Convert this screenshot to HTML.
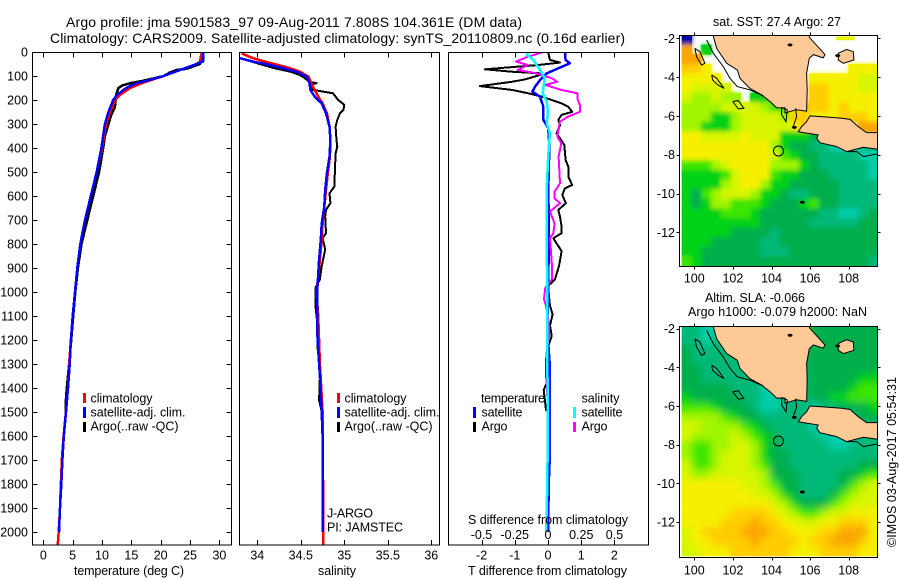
<!DOCTYPE html>
<html lang="en">
<head>
<meta charset="utf-8">
<title>Argo profile 5901583_97</title>
<style>
html,body{margin:0;padding:0;background:#fff;}
svg{display:block;}
text{font-family:"Liberation Sans",sans-serif;font-size:12.5px;fill:#000;}
.ttl{font-size:14px;}
</style>
</head>
<body>
<svg id="fig" xmlns="http://www.w3.org/2000/svg" width="900" height="580" viewBox="0 0 900 580">
<defs>
<clipPath id="clipT"><rect x="33" y="52" width="198" height="493"/></clipPath>
<clipPath id="clipS"><rect x="240" y="52" width="199" height="493"/></clipPath>
<clipPath id="clipD"><rect x="448.5" y="52" width="199.5" height="493"/></clipPath>
<clipPath id="clipM1"><rect x="679.5" y="35" width="198" height="232"/></clipPath>
<clipPath id="clipM2"><rect x="679.5" y="326" width="198" height="231"/></clipPath>
<filter id="blurSst" x="0" y="0" width="100%" height="100%"><feGaussianBlur in="SourceGraphic" stdDeviation="2.5" result="b"/><feMerge><feMergeNode in="SourceGraphic"/><feMergeNode in="b"/></feMerge></filter>
<filter id="blurSla" x="0" y="0" width="100%" height="100%"><feGaussianBlur in="SourceGraphic" stdDeviation="4" result="b"/><feMerge><feMergeNode in="SourceGraphic"/><feMergeNode in="b"/></feMerge></filter>
</defs>
<rect x="0" y="0" width="900" height="580" fill="#fff"/>

<text class="ttl" x="66" y="27" textLength="456">Argo profile: jma 5901583_97 09-Aug-2011 7.808S 104.361E (DM data)</text>
<text class="ttl" x="50" y="43" textLength="575">Climatology: CARS2009. Satellite-adjusted climatology: synTS_20110809.nc (0.16d earlier)</text>

<g id="pT" clip-path="url(#clipT)"></g>
<g id="pS" clip-path="url(#clipS)"></g>
<g id="pD" clip-path="url(#clipD)"></g>
<g id="m1" clip-path="url(#clipM1)"></g>
<g id="m2" clip-path="url(#clipM2)"></g>
<g id="axes"></g>

<text x="74" y="575" textLength="110">temperature (deg C)</text>
<text x="318" y="575" textLength="38">salinity</text>
<text x="468" y="575" textLength="159">T difference from climatology</text>
<text x="468" y="524" textLength="160">S difference from climatology</text>

<g>
<rect x="83" y="393" width="3" height="10" fill="#f00"/>
<rect x="83" y="407" width="3" height="11" fill="#00f"/>
<rect x="83" y="422" width="3" height="10" fill="#000"/>
<text x="90.5" y="402.5" textLength="62">climatology</text>
<text x="90.5" y="416.5" textLength="95">satellite-adj. clim.</text>
<text x="90.5" y="430.5" textLength="88">Argo(..raw -QC)</text>
</g>
<g>
<rect x="337" y="393" width="3" height="10" fill="#f00"/>
<rect x="337" y="407" width="3" height="11" fill="#00f"/>
<rect x="337" y="422" width="3" height="10" fill="#000"/>
<text x="344.5" y="402.5" textLength="62">climatology</text>
<text x="344.5" y="416.5" textLength="95">satellite-adj. clim.</text>
<text x="344.5" y="430.5" textLength="88">Argo(..raw -QC)</text>
<text x="327" y="517.5" textLength="46">J-ARGO</text>
<text x="327" y="531.5" textLength="76">PI: JAMSTEC</text>
</g>
<g>
<text x="481" y="402.5" textLength="64">temperature</text>
<text x="581.5" y="402.5" textLength="38">salinity</text>
<rect x="473" y="407" width="3" height="11" fill="#00f"/>
<rect x="473" y="422" width="3" height="10" fill="#000"/>
<rect x="573" y="407" width="3" height="11" fill="#0ff"/>
<rect x="573" y="422" width="3" height="10" fill="#f0f"/>
<text x="481.5" y="416.5" textLength="41">satellite</text>
<text x="481.5" y="430.5" textLength="26">Argo</text>
<text x="581.5" y="416.5" textLength="41">satellite</text>
<text x="581.5" y="430.5" textLength="26">Argo</text>
</g>

<text x="713" y="26" textLength="128">sat. SST: 27.4 Argo: 27</text>
<text x="705" y="302" textLength="100">Altim. SLA: -0.066</text>
<text x="688" y="316" textLength="179">Argo h1000: -0.079 h2000: NaN</text>
<text transform="translate(896,547) rotate(-90)" x="0" y="0" textLength="170">©IMOS 03-Aug-2017 05:54:31</text>
</svg>

<script>
// ---------- profile data (depth in dbar, temperature in deg C, salinity in psu) ----------
const depthTicks = [0,100,200,300,400,500,600,700,800,900,1000,1100,1200,1300,1400,1500,1600,1700,1800,1900,2000];
const tempTicks = [0,5,10,15,20,25,30];
const salTicks = [34,34.5,35,35.5,36];
const salTickLabels = ['34','34.5','35','35.5','36'];
const tDiffTicks = [-2,-1,0,1,2];
const tDiffTickLabels = ['-2','-1','0','1','2'];
const sDiffTicks = [-0.5,-0.25,0,0.25,0.5];
const sDiffTickLabels = ['-0.5','-0.25','0','0.25','0.5'];
const lonTicks = [100,102,104,106,108];
const latTicks = [-2,-4,-6,-8,-10,-12];

const tempClimDepth = [0,40,50,100,130,150,180,200,250,300,400,500,600,700,800,900,1000,1100,1200,1300,1400,1500,1600,1700,1800,1900,2000,2054];
const tempClimValue = [27.0,26.7,26.1,20.5,16.8,14.8,13.0,12.2,11.4,10.7,10.0,9.1,8.1,7.1,6.3,5.8,5.4,5.0,4.7,4.4,4.2,3.85,3.45,3.15,3.0,2.85,2.62,2.45];
const tempSatDepth = [0,40,50,60,80,100,120,130,150,180,200,250,300,400,500,600,700,800,900,1000,1100,1200,1300,1400,1500,1600,1700,1800,1900,2000];
const tempSatValue = [27.2,27.2,26.1,25.0,22.7,20.5,17.6,15.9,14.1,12.5,11.9,11.1,10.5,9.9,9.1,8.1,7.1,6.3,5.8,5.4,5.0,4.7,4.5,4.2,3.87,3.5,3.25,3.07,2.85,2.67];
const tempArgoDepth = [0,50,70,75,85,100,120,130,140,150,180,230,260,300,350,400,500,600,700,800,900,1000,1100,1200,1300,1400,1450,1500];
const tempArgoValue = [27.0,26.7,24.4,22.7,21.6,20.5,17.0,14.8,13.4,12.8,12.4,12.2,11.6,11.1,10.5,10.2,9.5,8.5,7.5,6.5,5.9,5.45,5.1,4.75,4.4,4.0,3.85,3.85];

const salClimDepth = [6,26,40,54,68,82,103,130,158,186,214,255,311,367,436,506,575,644,714,783,900,1000,1100,1300,1500,2054];
const salClimValue = [33.82,33.95,34.09,34.24,34.38,34.49,34.59,34.62,34.66,34.70,34.75,34.80,34.83,34.84,34.835,34.81,34.79,34.77,34.75,34.74,34.71,34.68,34.70,34.72,34.75,34.76];
const salSatDepth = [26,40,54,68,82,103,130,158,186,214,255,311,367,436,506,575,644,714,783,865,990,1170,1240,1350,1500,1600,2000];
const salSatValue = [33.8,33.95,34.15,34.3,34.45,34.57,34.6,34.61,34.66,34.74,34.79,34.83,34.84,34.83,34.80,34.78,34.77,34.74,34.73,34.71,34.69,34.69,34.70,34.72,34.74,34.75,34.75];
const salArgoDepth = [26,47,68,82,96,110,124,130,137,158,172,200,220,242,255,283,311,367,394,422,561,589,630,658,686,755,775,823,892,947,982,1065,1128,1225,1280,1350,1450,1500];
const salArgoValue = [33.8,34.0,34.2,34.38,34.49,34.55,34.6,34.68,34.6,34.64,34.87,34.93,35.0,34.99,34.95,34.92,34.9,34.91,34.92,34.9,34.885,34.83,34.84,34.79,34.78,34.79,34.75,34.78,34.74,34.72,34.67,34.67,34.69,34.69,34.71,34.72,34.71,34.74];

const tDiffSatDepth = [0,33,47,68,89,117,144,165,186,228,283,318,367,450,575,776,1000,1200,1300,1500,1600,1700,1800,1950,2000];
const tDiffSatValue = [0.51,0.53,0.66,0.31,-0.04,-0.24,-0.39,-0.47,-0.24,-0.14,-0.14,0.01,0.03,0.03,0.01,0.03,0.0,0.0,0.05,0.05,0.05,0.05,0.02,0.01,0.0];
const tDiffArgoDepth = [3,33,44,54,72,82,89,96,114,124,142,158,172,186,200,214,228,249,262,283,304,339,360,387,450,478,519,554,568,596,630,658,686,728,755,776,830,892,947,975,1058,1093,1140,1183,1225,1280,1350,1380,1408,1491,1500];
const tDiffArgoValue = [0.01,0.06,0.36,-0.29,-1.9,-1.09,-0.19,-0.24,-0.69,-1.09,-2.05,-1.09,-0.59,-0.19,0.11,0.41,0.61,0.73,0.41,0.31,0.36,0.26,0.36,0.49,0.53,0.61,0.61,0.73,0.51,0.43,0.54,0.31,0.36,0.41,0.41,0.16,0.41,0.33,0.21,0.0,0.06,0.14,0.06,0.11,0.01,-0.06,-0.06,-0.04,-0.13,-0.06,0.0];
const sDiffSatDepth = [0,12,33,54,75,103,130,172,207,249,297,339,367,450,575,783,1000,1300,1500,1800,1950,2000];
const sDiffSatValue = [-0.15,-0.16,-0.11,-0.085,-0.06,-0.03,-0.03,-0.04,-0.01,0.0,-0.01,0.015,0.01,0.0,-0.01,-0.01,-0.005,-0.005,0.0,-0.005,-0.012,-0.012];
const sDiffArgoDepth = [3,19,40,54,75,85,96,110,124,137,158,172,193,221,249,269,290,318,353,380,436,547,582,610,630,665,714,755,776,892,947,982,1030,1058,1100,1170,1252,1380,1500];
const sDiffArgoValue = [-0.05,-0.15,-0.24,-0.15,-0.23,-0.12,-0.05,0.03,0.07,-0.02,0.1,0.22,0.22,0.24,0.24,0.15,0.09,0.08,0.07,0.1,0.08,0.09,0.05,0.05,0.09,0.015,0.05,0.04,0.015,0.03,0.03,-0.02,-0.03,-0.015,0.0,0.01,-0.01,-0.01,0.0];

// ---------- map grids: colour level per 0.5-degree cell; n = no data ----------
const n = null;
const levelColors = ['#0000a0','#005adc','#00dcdc','#00cdaa','#00b978','#00af4b','#00d214','#3ce600','#a0f500','#d7f500','#f5f000','#ffcd00','#faa500'];
const sstGrid = [
[0,n,n,n,n,n,n,n,n,n,n,n,n,n,n,n,n,n,n,n],
[12,n,6,n,n,n,n,n,n,n,n,n,n,n,n,n,n,n,n,n],
[12,12,n,n,n,n,n,n,n,n,n,n,n,n,n,n,n,n,n,n],
[11,11,10,n,n,n,n,n,n,n,n,n,n,n,n,n,n,10,10,10],
[10,10,10,10,n,n,n,n,n,n,n,n,n,10,10,10,10,10,9,9],
[10,9,9,9,9,n,n,n,n,n,n,n,n,11,11,10,10,10,9,9],
[9,8,8,9,8,8,n,6,6,n,n,n,n,11,11,10,10,10,10,10],
[8,8,8,8,9,9,9,9,8,7,7,10,11,11,11,10,11,10,10,10],
[8,8,8,6,6,8,9,9,9,9,8,11,11,10,10,10,11,11,11,10],
[8,8,6,6,6,8,9,9,9,9,9,10,11,n,n,n,n,n,12,12],
[10,10,9,9,9,9,10,9,9,9,6,6,6,5,4,n,n,n,n,n],
[10,10,10,10,10,10,10,10,10,8,6,5,5,4,4,3,2,3,4,4],
[10,10,10,10,10,10,10,10,10,9,7,6,5,5,4,4,4,4,3,3],
[7,7,7,8,9,10,10,10,10,8,8,8,6,5,4,4,4,4,4,3],
[6,6,6,6,7,9,10,10,10,7,6,6,5,5,5,4,4,4,4,3],
[6,6,6,6,8,9,10,10,8,6,6,5,5,5,5,5,4,4,4,4],
[6,5,7,8,9,9,9,8,6,6,5,4,4,5,5,5,4,4,4,4],
[6,5,6,8,8,7,7,7,6,5,5,5,6,7,5,5,4,4,4,4],
[6,6,6,6,7,7,7,6,5,5,5,5,5,5,4,4,3,3,4,5],
[6,6,6,6,6,6,6,6,5,5,5,5,5,4,4,4,4,4,5,5],
[6,6,6,6,6,5,5,5,5,4,5,5,5,5,5,5,5,5,5,5],
[6,6,6,5,5,5,5,5,4,4,5,5,5,5,5,5,5,5,5,5],
[6,6,5,5,5,5,5,5,4,4,4,5,5,5,5,5,5,5,5,5],
[7,6,5,5,5,5,5,5,5,5,5,5,5,5,5,5,5,5,5,4]
];
const slaGrid = [
[4,4,3,3,4,4,4,4,4,4,4,7,7,5,5,5,5,5,5,5],
[4,4,3,4,4,4,4,4,4,4,4,5,5,5,5,5,5,5,5,5],
[5,4,4,4,4,4,4,4,4,4,4,5,5,5,5,5,5,5,5,5],
[5,4,4,4,4,4,4,4,4,4,4,5,5,5,5,5,5,5,5,5],
[5,5,4,4,4,4,4,4,4,4,4,4,4,5,5,5,5,5,5,5],
[5,5,4,4,4,4,4,4,4,4,4,4,4,5,5,5,5,5,6,6],
[5,5,5,5,5,4,4,4,3,4,4,4,4,5,5,5,5,6,7,7],
[6,5,5,5,5,5,4,4,3,3,4,4,4,5,5,6,6,7,7,7],
[7,7,7,6,5,5,5,4,3,3,4,4,4,3,4,4,5,5,5,6],
[8,8,8,8,7,6,5,5,4,4,4,4,4,3,4,4,4,4,5,5],
[9,9,8,8,8,8,7,6,5,4,4,4,4,3,3,3,3,3,4,4],
[9,8,8,8,8,9,8,7,6,5,4,4,4,4,3,3,3,3,4,4],
[8,7,7,8,8,9,9,8,6,5,4,4,4,4,4,3,3,4,4,4],
[8,7,7,8,9,9,9,8,6,5,5,4,4,4,4,4,4,4,4,4],
[9,7,7,8,9,9,9,8,7,5,5,4,4,4,4,4,4,4,5,5],
[9,8,8,9,9,9,9,9,8,5,5,5,4,4,4,4,5,5,6,7],
[10,10,10,10,10,10,9,9,8,7,5,5,4,4,4,4,5,7,8,9],
[10,10,10,10,10,10,10,9,9,8,6,5,4,4,4,5,7,8,9,9],
[10,10,10,10,10,10,10,10,10,9,8,6,5,5,5,7,8,9,9,9],
[10,10,10,10,10,11,11,11,11,10,9,8,7,7,8,9,9,10,10,10],
[10,10,10,10,11,11,11,12,11,11,10,10,9,9,10,10,11,11,11,10],
[9,10,11,11,11,11,12,12,12,11,11,10,10,10,11,11,12,12,12,10],
[9,10,10,11,11,11,11,12,11,11,11,11,10,11,11,12,12,12,11,10],
[9,9,10,10,10,11,11,11,11,11,11,10,10,10,11,11,11,11,10,10]
];

// ---------- geography (lon / lat in degrees) ----------
const sumatraLon = [100.9,101.16,101.68,102.23,102.37,102.88,103.49,103.92,104.27,104.7,104.7,105.3,105.82,105.85,105.82,105.96,106.17,106.68,106.77,105.99,105.82];
const sumatraLat = [-1.6,-2.52,-3.29,-3.63,-4.06,-4.58,-4.92,-5.26,-5.59,-5.59,-5.85,-5.68,-5.76,-4.66,-3.8,-3.03,-2.84,-3.01,-2.84,-1.98,-1.6];
const javaLon = [105.99,107.03,107.63,108.07,108.5,108.93,109.5,109.9,109.9,109.5,108.76,107.89,107.37,106.51,106.34,106.42,105.65,105.39,105.56,105.82];
const javaLat = [-6.0,-6.07,-6.12,-6.18,-6.55,-6.86,-6.86,-6.86,-7.72,-7.72,-7.62,-7.84,-7.58,-7.38,-7.15,-6.98,-6.86,-6.81,-6.55,-6.3];
const bangkaLon = [107.46,107.89,108.24,108.27,107.72,107.46];
const bangkaLat = [-2.77,-2.57,-2.69,-3.12,-3.29,-3.12];
const shelfLon = [100.64,100.98,101.5,101.85,102.23,102.88,103.58];
const shelfLat = [-2.09,-2.77,-3.46,-4.06,-4.49,-4.66,-4.97];
const siberutLon = [100.03,100.29,100.55,100.38,100.12,100.03];
const siberutLat = [-2.52,-2.69,-3.29,-3.38,-2.95,-2.52];
const sipuraLon = [100.9,101.16,101.54,101.24,100.95,100.9];
const sipuraLat = [-3.89,-4.06,-4.58,-4.41,-4.15,-3.89];
const engganoLon = [101.99,102.28,102.57,102.28,101.99];
const engganoLat = [-5.26,-5.21,-5.61,-5.64,-5.26];
const bayLon = [104.53,104.82,104.75,104.53,104.53];
const bayLat = [-5.56,-5.69,-6.3,-5.95,-5.56];
const straitLon = [105.25,105.3,105.13];
const straitLat = [-5.61,-6.04,-6.55];
const javaShelfLon = [107.89,108.41,108.76,109.5,109.6];
const javaShelfLat = [-7.84,-7.84,-8.1,-7.96,-7.9];
const blobLon = [105.6,105.18,104.96,107.43];
const blobLat = [-10.45,-6.59,-2.34,-2.89];
const sstPatchLon = [107.35,108.3];
const sstPatchLat = [-1.9,-2.1];
const argoLon = 104.361;
const argoLat = -7.808;

// ---------- axis functions ----------
const yDepth = d => 52 + 0.24 * d;
const xTemp = t => 43.3 + 5.87 * t;
const xSal = s => 257.3 + 87 * (s - 34);
const xTDiff = v => 548 + 33.2 * v;
const xSDiff = v => 548 + 133 * v;
const xLon = lon => 694.3 + 19.3 * (lon - 100);
const yLat1 = lat => 38.3 + 19.4 * (-2 - lat);
const yLat2 = lat => 328.7 + 19.33 * (-2 - lat);

const NS = 'http://www.w3.org/2000/svg';
function make(parent, tag, attrs, txt) {
  const el = document.createElementNS(NS, tag);
  for (const k in attrs) el.setAttribute(k, attrs[k]);
  if (txt !== undefined) el.textContent = txt;
  parent.appendChild(el);
  return el;
}
function profilePoints(depths, values, xf) {
  return depths.map((d, i) => xf(values[i]).toFixed(1) + ',' + yDepth(d).toFixed(1)).join(' ');
}
function lonLatPoints(lons, lats, yf) {
  return lons.map((lon, i) => xLon(lon).toFixed(1) + ',' + yf(lats[i]).toFixed(1)).join(' ');
}
function profile(parent, depths, values, xf, color, width) {
  return make(parent, 'polyline', {points: profilePoints(depths, values, xf), fill: 'none', stroke: color, 'stroke-width': width, 'shape-rendering': 'crispEdges', 'stroke-linejoin': 'round'});
}

const pT = document.getElementById('pT');
const pS = document.getElementById('pS');
const pD = document.getElementById('pD');
const axes = document.getElementById('axes');
let el;

// ---------- profiles ----------
el = profile(pT, tempArgoDepth, tempArgoValue, xTemp, '#000', 2.5);


el = profile(pT, tempClimDepth, tempClimValue, xTemp, '#f00', 2.5);


el = profile(pT, tempSatDepth, tempSatValue, xTemp, '#00f', 2.5);



el = profile(pS, salArgoDepth, salArgoValue, xSal, '#000', 2);


el = profile(pS, salClimDepth, salClimValue, xSal, '#f00', 2.5);


el = profile(pS, salSatDepth, salSatValue, xSal, '#00f', 2.5);



el = profile(pD, tDiffArgoDepth, tDiffArgoValue, xTDiff, '#000', 2);


el = profile(pD, tDiffSatDepth, tDiffSatValue, xTDiff, '#00f', 2.5);


el = profile(pD, sDiffArgoDepth, sDiffArgoValue, xSDiff, '#f0f', 2);


el = profile(pD, sDiffSatDepth, sDiffSatValue, xSDiff, '#0ff', 2.5);



// ---------- panel frames and ticks ----------
function frame(x, y, w, h) {
  return make(axes, 'rect', {x: x, y: y, width: w, height: h, fill: 'none', stroke: '#000', 'stroke-width': 1, 'shape-rendering': 'crispEdges'});
}
function tick(x1, y1, x2, y2) {
  return make(axes, 'line', {x1: x1, y1: y1, x2: x2, y2: y2, stroke: '#000', 'stroke-width': 1, 'shape-rendering': 'crispEdges'});
}
function label(x, y, anchor, txt) {
  return make(axes, 'text', {x: x, y: y, 'text-anchor': anchor}, txt);
}
const panels = [[32.5,231.5,'temperature'],[239.5,439.5,'salinity'],[448.5,648.5,'difference']];
for (const p of panels) {
  el = frame(p[0], 52.5, p[1] - p[0], 492.5);
  
  
}
depthTicks.forEach(d => {
  const y = Math.round(yDepth(d)) + 0.5;
  el = tick(32.5, y, 37.5, y);
  
  
  el = tick(226.5, y, 231.5, y);
  
  
  el = label(28, yDepth(d) + 4.5, 'end', String(d));
  
  
});
function xAxis(ticks, labels, xf, yLabel, yTop, yBottom) {
  ticks.forEach((v, i) => {
    const x = Math.round(xf(v)) + 0.5;
    if (yTop) {
      el = tick(x, 52.5, x, 57.5);
      
      
    }
    if (yBottom) {
      el = tick(x, 540, x, 545);
      
      
    }
    el = label(xf(v), yLabel, 'middle', labels[i]);
    
    
  });
}
xAxis(tempTicks, tempTicks.map(String), xTemp, 559.5, true, true);
xAxis(salTicks, salTickLabels, xSal, 559.5, true, true);
xAxis(tDiffTicks, tDiffTickLabels, xTDiff, 559.5, true, true);
xAxis(sDiffTicks, sDiffTickLabels, xSDiff, 539, false, false);

// ---------- maps ----------
const LON0 = 99.35, DLON = 0.5075, LAT0 = -1.83, DLAT = 0.4965;
function drawMap(group, grid, yf, filterId) {
  const cells = make(group, 'g', {filter: 'url(#' + filterId + ')'});
  
  
  grid.forEach((row, r) => {
    row.forEach((v, c) => {
      if (v === null) return;
      const x0 = xLon(LON0 + c * DLON), x1 = xLon(LON0 + (c + 1) * DLON);
      const y0 = yf(LAT0 - r * DLAT), y1 = yf(LAT0 - (r + 1) * DLAT);
      const cell = make(cells, 'rect', {x: x0.toFixed(1), y: y0.toFixed(1), width: (x1 - x0 + 0.4).toFixed(1), height: (y1 - y0 + 0.4).toFixed(1), fill: levelColors[v]});
      
      
    });
  });
  const lands = [[sumatraLon, sumatraLat, 'sumatra-land'], [javaLon, javaLat, 'java-land'], [bangkaLon, bangkaLat, 'island-land']];
  for (const l of lands) {
    const poly = make(group, 'polygon', {points: lonLatPoints(l[0], l[1], yf), fill: '#fdc996', stroke: '#000', 'stroke-width': 1});
    
    
  }
  const outlines = [[shelfLon, shelfLat], [siberutLon, siberutLat], [sipuraLon, sipuraLat], [engganoLon, engganoLat], [bayLon, bayLat], [straitLon, straitLat], [javaShelfLon, javaShelfLat]];
  for (const o of outlines) {
    const line = make(group, 'polyline', {points: lonLatPoints(o[0], o[1], yf), fill: 'none', stroke: '#000', 'stroke-width': 1});
    
    
  }
  blobLon.forEach((lon, i) => {
    const b = make(group, 'ellipse', {cx: xLon(lon), cy: yf(blobLat[i]), rx: 2.5, ry: 1.5, fill: '#000'});
    
    
  });
  const c = make(group, 'circle', {cx: xLon(argoLon), cy: yf(argoLat), r: 5, fill: 'none', stroke: '#000', 'stroke-width': 1});
  
  
}
drawMap(document.getElementById('m1'), sstGrid, yLat1, 'blurSst');
drawMap(document.getElementById('m2'), slaGrid, yLat2, 'blurSla');

el = make(document.getElementById('m1'), 'rect', {x: xLon(sstPatchLon[0]), y: yLat1(sstPatchLat[0]), width: xLon(sstPatchLon[1]) - xLon(sstPatchLon[0]), height: yLat1(sstPatchLat[1]) - yLat1(sstPatchLat[0]), fill: '#e6f500'});



function mapAxes(top, bottom, yf, yLabel) {
  el = frame(679.5, top, 198, bottom - top);
  
  
  latTicks.forEach(lat => {
    const y = Math.round(yf(lat)) + 0.5;
    el = tick(676.5, y, 679.5, y);
    
    
    el = tick(877.5, y, 880.5, y);
    
    
    el = label(675, yf(lat) + 4.5, 'end', String(lat));
    
    
  });
  lonTicks.forEach(lon => {
    const x = Math.round(xLon(lon)) + 0.5;
    el = tick(x, top - 3, x, top);
    
    
    el = tick(x, bottom, x, bottom + 3);
    
    
    el = label(xLon(lon), yLabel, 'middle', String(lon));
    
    
  });
}
mapAxes(35.5, 266.5, yLat1, 282.5);
mapAxes(326.5, 557.5, yLat2, 574.5);
</script>
</body>
</html>
